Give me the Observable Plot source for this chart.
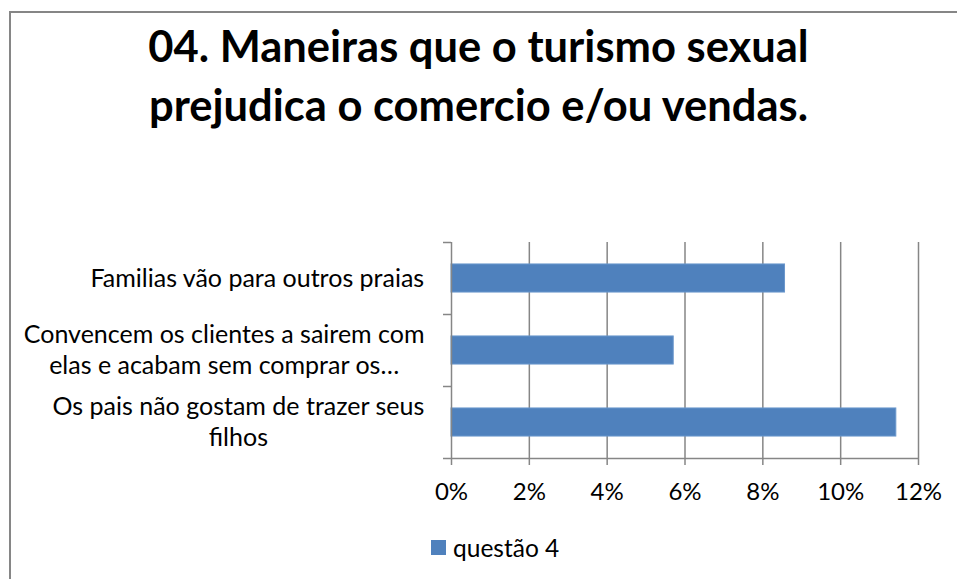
<!DOCTYPE html>
<html>
<head>
<meta charset="utf-8">
<script src="https://cdn.jsdelivr.net/npm/d3@7"></script>
<script src="https://cdn.jsdelivr.net/npm/@observablehq/plot@0.6"></script>
<style>
  html, body { margin: 0; padding: 0; background: #fff; }
  #frame { position: relative; width: 957px; height: 579px; overflow: hidden; font-family: Lato, "Open Sans", sans-serif; }
  #border { position: absolute; left: 9px; top: 11px; width: 960px; height: 600px; border-left: 2px solid #868686; border-top: 2px solid #868686; box-sizing: border-box; }
  #title { position: absolute; left: 0; top: 16px; width: 957px; text-align: center; font-weight: bold; font-size: 43.5px; line-height: 59px; color: #000; }
  #chart { position: absolute; left: 0; top: 0; }
  #legend { position: absolute; left: 431px; top: 533px; display: flex; align-items: center; font-size: 24.5px; color: #000; }
  #legend .sw { width: 15px; height: 15px; background: #4F81BD; margin-right: 7px; }
</style>
</head>
<body>
<div id="frame">
  <div id="border"></div>
  <div id="chart"></div>
  <div id="title">04. Maneiras que o turismo sexual<br>prejudica o comercio e/ou vendas.</div>
  <div id="legend"><div class="sw"></div><span id="legendText"></span></div>
</div>
<script>
const categories = [
  "Familias vão para outros praias",
  "Convencem os clientes a sairem com\nelas e acabam sem comprar os…",
  "Os pais não gostam de trazer seus\nfilhos"
];
const values = [0.0857, 0.0571, 0.1143];
const seriesName = "questão 4";
const xTicks = [0, 0.02, 0.04, 0.06, 0.08, 0.10, 0.12];

document.getElementById("legendText").textContent = seriesName;

const data = categories.map((c, i) => ({ label: c, value: values[i], i }));
const barInset = 0.305; // fraction of category slot left empty above/below each bar
const gray = "#868686";
const fontFamily = "Lato, 'Open Sans', sans-serif";
const labelSize = 25;

const W = 957, H = 520, mL = 451, mR = 39, mT = 242, mB = 62;
const xMax = 0.12;
const unitsPerPx = xMax / (W - mL - mR);

// measure line widths (Excel centres the lines of a wrapped label inside a right-aligned block)
const ctx = document.createElement("canvas").getContext("2d");
ctx.font = `${labelSize}px Lato, 'Open Sans', sans-serif`;
const measure = s => ctx.measureText(s).width;

const lineStep = 31 / 72; // line spacing as a fraction of one category slot
const lines = [];
data.forEach(d => {
  const parts = d.label.split("\n");
  const maxW = Math.max(...parts.map(measure));
  parts.forEach((p, k) => lines.push({
    text: p,
    pos: d.i + 0.5 + (k - (parts.length - 1) / 2) * lineStep,
    center: -(maxW / 2) * unitsPerPx
  }));
});

const chart = Plot.plot({
  width: W,
  height: H,
  marginLeft: mL,
  marginRight: mR,
  marginTop: mT,
  marginBottom: mB,
  style: { fontFamily, fontSize: "24px", color: "#000", background: "transparent" },
  x: { domain: [0, xMax] },
  y: { domain: [0, categories.length], reverse: true },
  marks: [
    Plot.gridX(xTicks.slice(1), { stroke: gray, strokeOpacity: 1, strokeWidth: 1.5 }),
    Plot.rectX(data, {
      x1: 0, x2: "value",
      y1: d => d.i + barInset, y2: d => d.i + 1 - barInset,
      fill: "#4F81BD", stroke: "#6a97cc", strokeWidth: 1
    }),
    Plot.ruleX([0], { stroke: gray, strokeWidth: 1.5 }),
    Plot.ruleY([categories.length], { stroke: gray, strokeWidth: 1.5 }),
    Plot.axisY(d3.range(categories.length + 1), { tickSize: 8, tickFormat: () => "", stroke: gray, strokeWidth: 1.5, label: null }),
    Plot.axisX(xTicks, { tickSize: 7, tickPadding: 17, tickFormat: d3.format(".0%"), stroke: gray, strokeWidth: 1.5, fill: "#000", fontSize: 24, label: null }),
    Plot.text(lines, {
      x: "center", y: "pos", text: "text",
      textAnchor: "middle", dx: -27,
      fontSize: labelSize, fill: "#000"
    })
  ]
});
document.getElementById("chart").appendChild(chart);
</script>
</body>
</html>
